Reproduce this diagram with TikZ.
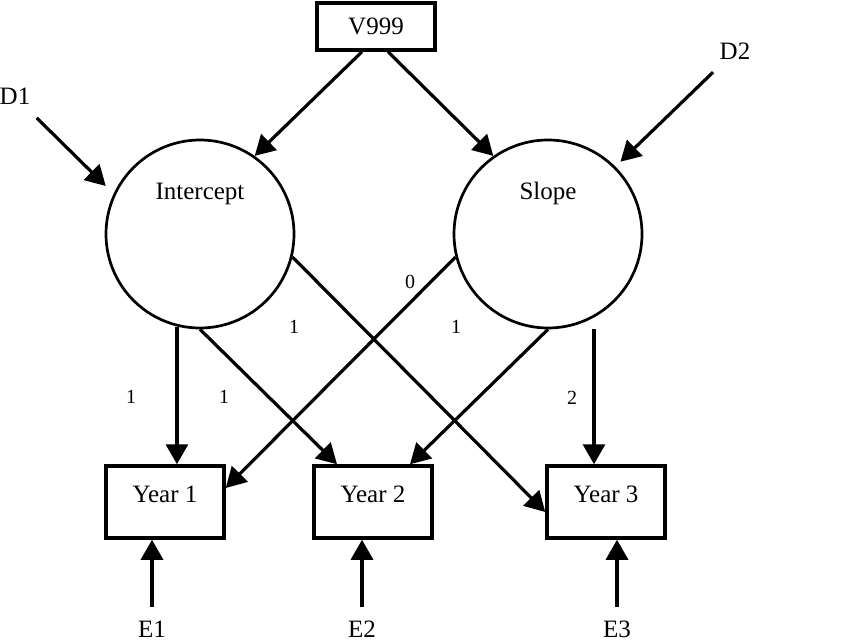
\documentclass[tikz,border=0pt]{standalone}
\usepackage{fontspec}
\setmainfont{Liberation Serif}
\usetikzlibrary{arrows.meta}

\begin{document}
\begin{tikzpicture}[x=1pt,y=-1pt,line width=3.2pt]
	 \tikzstyle{box}=[draw,rectangle,line width=3.5pt,inner sep=0pt,font=\fontsize{25pt}{30pt}\selectfont]
	 \tikzstyle{observed}=[box,minimum width=118pt,minimum height=72pt,text height=17pt,text depth=17pt]
	 \tikzstyle{latent}=[draw,circle,line width=2.7pt,inner sep=0pt,minimum size=188pt,text height=17pt,text depth=85pt,font=\fontsize{25pt}{30pt}\selectfont]
	 \tikzstyle{residual}=[inner sep=0pt,font=\fontsize{25pt}{30pt}\selectfont]
	 \tikzstyle{coef}=[inner sep=0pt,font=\fontsize{20pt}{24pt}\selectfont]

	 \tikzstyle{effect}=[draw,-{Triangle[length=20pt,width=22pt]}]

	 \useasboundingbox (0,0) rectangle (850,644);

	 \node[box,minimum width=118pt,minimum height=47pt] (v999) at (376,26.5) {V999};
	\node[latent] (intercept) at (200,234) {Intercept};
	\node[latent] (slope) at (548,234) {Slope};
	\node[observed] (year1) at (165,502) {Year 1};
	\node[observed] (year2) at (373,502) {Year 2};
	\node[observed] (year3) at (606,502) {Year 3};

	\node[residual] (d1) at (15,96.5) {D1};
	\node[residual] (d2) at (735,51) {D2};
	\node[residual] (e1) at (152,629.5) {E1};
	\node[residual] (e2) at (362,629.5) {E2};
	\node[residual] (e3) at (617,629.5) {E3};

	\node[coef] (c11) at (131,397) {1};
	\node[coef] (c12) at (224,397) {1};
	\node[coef] (c13) at (294,327) {1};
	\node[coef] (c21) at (410,282) {0};
	\node[coef] (c22) at (456,327) {1};
	\node[coef] (c23) at (572,398) {2};

	\draw[effect] ([xshift=-14pt]v999.south) -- (intercept.55);
	\draw[effect] ([xshift=12pt]v999.south) -- (slope.125);
	\draw[effect,shorten <=30.5pt,shorten >=11pt] (d1.center) -- (intercept.155);
	\draw[effect,shorten <=30.5pt,shorten >=7pt] (d2.center) -- (slope.45);

	\draw[effect] (intercept.256) -- (intercept.256 |- year1.north);
	\draw[effect] (intercept.south) -- ([xshift=-36pt]year2.north);
	\draw[effect] (intercept.346) -- ([yshift=-10pt]year3.west);
	\draw[effect] (slope.194) -- ([yshift=14pt]year1.east);
	\draw[effect] (slope.south) -- ([xshift=37pt]year2.north);
	\draw[effect] ([xshift=46pt]slope.south) -- ([xshift=-12pt]year3.north);

	\draw[effect,shorten <=13pt] (e1.north) -- (e1.north |- year1.south);
	\draw[effect,shorten <=13pt] (e2.north) -- (e2.north |- year2.south);
	\draw[effect,shorten <=13pt] (e3.north) -- (e3.north |- year3.south);
\end{tikzpicture}
\end{document}
